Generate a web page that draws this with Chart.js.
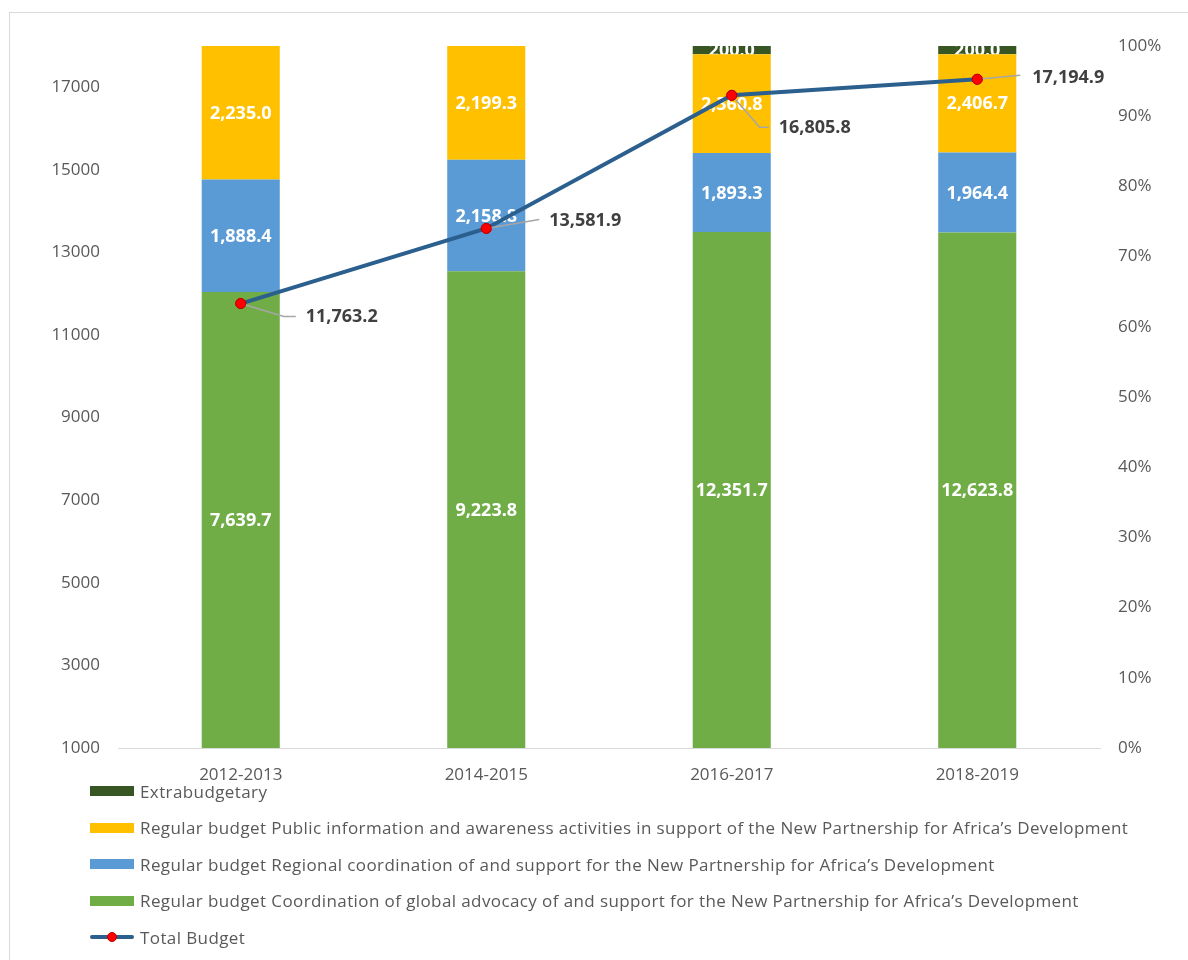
<!DOCTYPE html>
<html>
<head>
<meta charset="utf-8">
<title>Budget chart</title>
<script src="https://cdn.jsdelivr.net/npm/chart.js@4.4.1/dist/chart.umd.min.js"></script>
<style>
  html, body { margin: 0; padding: 0; background: #fff; }
  #wrap { position: relative; width: 1188px; height: 960px; overflow: hidden; }
  #frame { position: absolute; left: 9px; top: 12px; width: 1300px; height: 1100px;
           border-left: 1px solid #d9d9d9; border-top: 1px solid #d9d9d9; }
  #chart { position: absolute; left: 0; top: 0; }
  #legend { position: absolute; left: 90px; top: 773px; font-family: "Open Sans"; font-size: 17px;
            letter-spacing: 0.4px; color: #595959; }
  .item { height: 36.5px; display: flex; align-items: center; white-space: nowrap; }
  .swatch { width: 44px; height: 10px; margin-right: 6px; flex: none; }
  .lineswatch { position: relative; width: 44px; height: 10px; margin-right: 6px; flex: none; }
  .lineswatch .bar { position: absolute; left: 0; top: 3px; width: 44px; height: 4px; background: #2b5f8e; border-radius: 2px; }
  .lineswatch .dot { position: absolute; left: 17px; top: 0; width: 8px; height: 8px; border-radius: 50%;
                     background: #ff0000; border: 1px solid #c00000; }
</style>
</head>
<body>
<div id="wrap">
  <div id="frame"></div>
  <canvas id="chart" width="1188" height="960"></canvas>
  <div id="legend"></div>
</div>
<script>
const categories = ['2012-2013', '2014-2015', '2016-2017', '2018-2019'];
const coordGlobal = [7639.7, 9223.8, 12351.7, 12623.8];
const regionalCoord = [1888.4, 2158.8, 1893.3, 1964.4];
const publicInfo = [2235.0, 2199.3, 2360.8, 2406.7];
const extrabudgetary = [0, 0, 200.0, 200.0];
const totalBudget = [11763.2, 13581.9, 16805.8, 17194.9];
const leftTicks = [1000, 3000, 5000, 7000, 9000, 11000, 13000, 15000, 17000];
const rightTicks = [0, 10, 20, 30, 40, 50, 60, 70, 80, 90, 100];

// bars are 100% stacked on the right axis
const segTotal = categories.map((c, i) => coordGlobal[i] + regionalCoord[i] + publicInfo[i] + extrabudgetary[i]);
const toPct = arr => arr.map((v, i) => v / segTotal[i] * 100);

const fmt = v => v.toLocaleString('en-US', {minimumFractionDigits: 1, maximumFractionDigits: 1});
const tickFont = {family: 'Open Sans', size: 17};

// where the total labels sit relative to their point: leader path, text start
const totalLabelPos = [
    {path: [[43, 13], [55, 13]], tx: 65, ty: 13},
    {path: [[53, -9]], tx: 63, ty: -8},
    {path: [[28, 32], [37, 32]], tx: 47, ty: 33},
    {path: [[43, -4]], tx: 55, ty: -1}
];

const labelPlugin = {
    id: 'labels',
    afterDatasetDraw(chart, args) {
        const ds = chart.data.datasets[args.index];
        if (ds.type === 'line') return;
        const ctx = chart.ctx;
        const a = chart.chartArea;
        ctx.save();
        ctx.beginPath();
        ctx.rect(a.left, a.top, a.right - a.left, a.bottom - a.top);
        ctx.clip();
        ctx.font = '700 18px "Open Sans"';
        ctx.fillStyle = '#ffffff';
        ctx.textAlign = 'center';
        ctx.textBaseline = 'middle';
        args.meta.data.forEach((bar, i) => {
            const y = (bar.y + bar.base) / 2;
            ctx.fillText(ds.raw[i] === 0 ? '0' : fmt(ds.raw[i]), bar.x, y + 1);
        });
        ctx.restore();
    },
    afterDatasetsDraw(chart) {
        const idx = chart.data.datasets.findIndex(d => d.type === 'line');
        const meta = chart.getDatasetMeta(idx);
        const ctx = chart.ctx;
        ctx.save();
        meta.data.forEach((pt, i) => {
            const p = totalLabelPos[i];
            ctx.beginPath();
            ctx.moveTo(pt.x, pt.y);
            p.path.forEach(([dx, dy]) => ctx.lineTo(pt.x + dx, pt.y + dy));
            ctx.strokeStyle = '#a6a6a6';
            ctx.lineWidth = 1.5;
            ctx.stroke();
        });
        // redraw points over the leader lines
        meta.data.forEach(pt => pt.draw(ctx));
        ctx.font = '700 18px "Open Sans"';
        ctx.fillStyle = '#404040';
        ctx.textAlign = 'left';
        ctx.textBaseline = 'middle';
        meta.data.forEach((pt, i) => {
            const p = totalLabelPos[i];
            ctx.fillText(fmt(totalBudget[i]), pt.x + p.tx, pt.y + p.ty);
        });
        ctx.restore();
    }
};

const barDs = (label, vals, color) => ({
    type: 'bar',
    label: label,
    data: toPct(vals),
    raw: vals,
    backgroundColor: color,
    yAxisID: 'y2',
    order: 1,
    categoryPercentage: 1,
    barPercentage: 0.318
});

const datasets = [
    barDs('Regular budget Coordination of global advocacy of and support for the New Partnership for Africa\u2019s Development', coordGlobal, '#70ad47'),
    barDs('Regular budget Regional coordination of and support for the New Partnership for Africa\u2019s Development', regionalCoord, '#5b9bd5'),
    barDs('Regular budget Public information and awareness activities in support of the New Partnership for Africa\u2019s Development', publicInfo, '#ffc000'),
    barDs('Extrabudgetary', extrabudgetary, '#375623'),
    {
        type: 'line',
        label: 'Total Budget',
        data: totalBudget,
        yAxisID: 'y',
        order: 0,
        borderColor: '#2b5f8e',
        borderWidth: 4,
        tension: 0,
        pointRadius: 5,
        pointBackgroundColor: '#ff0000',
        pointBorderColor: '#c00000',
        pointBorderWidth: 1
    }
];

const ctx = document.getElementById('chart').getContext('2d');
const chart = new Chart(ctx, {
    data: {labels: categories, datasets: datasets},
    options: {
        responsive: false,
        animation: false,
        layout: {padding: {top: 46, left: 0, right: 0, bottom: 0}},
        plugins: {legend: {display: false}, tooltip: {enabled: false}},
        scales: {
            x: {
                stacked: true,
                grid: {display: false, drawTicks: false},
                border: {display: true, color: '#d9d9d9', width: 1},
                ticks: {font: tickFont, color: '#595959', padding: 17},
                afterFit: s => { s.height = 212; }
            },
            y: {
                position: 'left',
                min: 1000,
                max: 18000,
                grid: {display: false, drawTicks: false},
                border: {display: false},
                ticks: {font: tickFont, color: '#595959', padding: 18, callback: v => String(v)},
                afterBuildTicks: s => { s.ticks = leftTicks.map(v => ({value: v})); },
                afterFit: s => { s.width = 118; }
            },
            y2: {
                position: 'right',
                stacked: true,
                min: 0,
                max: 100,
                grid: {display: false, drawTicks: false},
                border: {display: false},
                ticks: {font: tickFont, color: '#595959', padding: 18, callback: v => v + '%'},
                afterBuildTicks: s => { s.ticks = rightTicks.map(v => ({value: v})); },
                afterFit: s => { s.width = 88; }
            }
        }
    },
    plugins: [labelPlugin]
});

// legend: bar series top-down as stacked, then the line
const legend = document.getElementById('legend');
const legendOrder = [3, 2, 1, 0, 4];
legend.innerHTML = legendOrder.map(i => {
    const d = datasets[i];
    const mark = d.type === 'line'
        ? '<span class="lineswatch"><span class="bar"></span><span class="dot"></span></span>'
        : `<span class="swatch" style="background:${d.backgroundColor}"></span>`;
    return `<div class="item">${mark}<span>${d.label}</span></div>`;
}).join('');
</script>
</body>
</html>
